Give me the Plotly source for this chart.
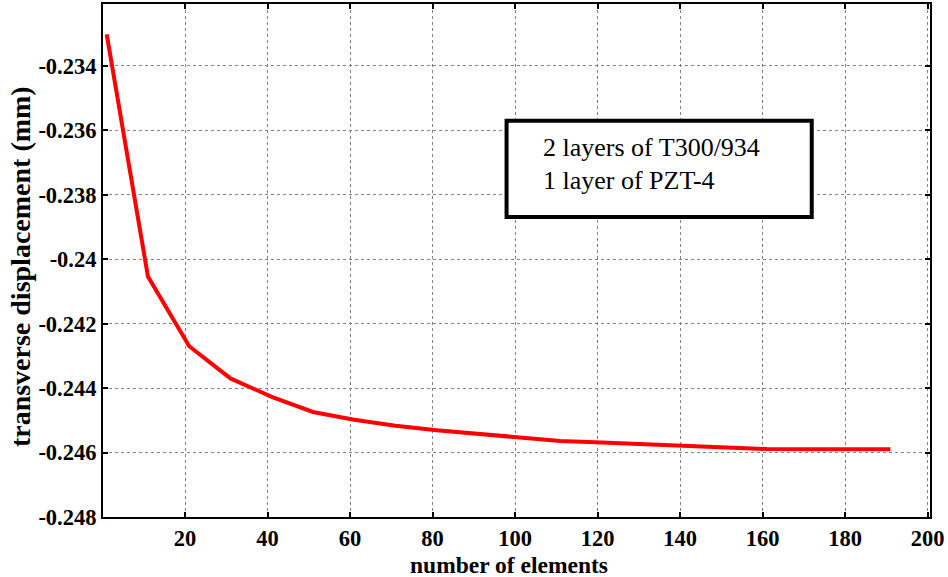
import plotly.graph_objects as go

# Data
n_elements = [1, 11, 21, 31, 41, 51, 61, 71, 81, 91, 101, 111, 121, 131, 141, 151, 161, 171, 181, 191]
displacement = [-0.23302, -0.24054, -0.24270, -0.24370, -0.24427, -0.24474, -0.24498, -0.24517,
                -0.24531, -0.24541, -0.24552, -0.24564, -0.24569, -0.24574, -0.24580, -0.24584,
                -0.24589, -0.24590, -0.24590, -0.24590]
x_ticks = [20, 40, 60, 80, 100, 120, 140, 160, 180, 200]
y_ticks = [-0.248, -0.246, -0.244, -0.242, -0.24, -0.238, -0.236, -0.234]
y_tick_text = ["-0.248", "-0.246", "-0.244", "-0.242", "-0.24", "-0.238", "-0.236", "-0.234"]
note_lines = ["2 layers of T300/934", "1 layer of PZT-4"]
x_title = "number of elements"
y_title = "transverse displacement (mm)"

FONT = "Liberation Serif"

fig = go.Figure()
fig.add_trace(go.Scatter(x=n_elements, y=displacement, mode="lines",
                         line=dict(color="#ff0000", width=4), showlegend=False))

axis_common = dict(showline=True, linecolor="black", linewidth=2, mirror="ticks",
                   ticks="inside", ticklen=5, tickcolor="black", tickwidth=1.5,
                   showgrid=True, gridcolor="#808080", gridwidth=1, griddash="dot",
                   zeroline=False, automargin=False,
                   tickfont=dict(family=FONT, size=22.5, color="black", weight="bold"))

fig.update_xaxes(range=[0.1, 200.6], tickvals=x_ticks, ticktext=[str(v) for v in x_ticks],
                 ticklabelstandoff=0, **axis_common)
fig.update_yaxes(range=[-0.248, -0.23208], tickvals=y_ticks, ticktext=y_tick_text,
                 **axis_common)

# axis titles
fig.add_annotation(xref="paper", yref="paper", x=0.491, y=-0.0935, xanchor="center", yanchor="middle",
                   text="<b>" + x_title + "</b>", showarrow=False, borderpad=0,
                   font=dict(family=FONT, size=23.5, color="black"))
fig.add_annotation(xref="paper", yref="paper", x=-0.1004, y=0.489, xanchor="center", yanchor="middle",
                   text="<b>" + y_title + "</b>", showarrow=False, textangle=-90,
                   font=dict(family=FONT, size=28, color="black"))

fig.add_shape(type="rect", xref="paper", yref="paper", x0=0.488, x1=0.857, y0=0.585, y1=0.7725,
              line=dict(color="black", width=4), fillcolor="white", layer="above")
fig.add_annotation(xref="paper", yref="paper", x=0.530, y=0.720, xanchor="left", yanchor="middle",
                   text=note_lines[0], showarrow=False,
                   font=dict(family=FONT, size=26, color="black"))
fig.add_annotation(xref="paper", yref="paper", x=0.530, y=0.656, xanchor="left", yanchor="middle",
                   text=note_lines[1], showarrow=False,
                   font=dict(family=FONT, size=26, color="black"))

fig.update_layout(width=948, height=577, margin=dict(l=103, r=18, t=4, b=60),
                  plot_bgcolor="white", paper_bgcolor="white",
                  font=dict(family=FONT))

fig.write_html("out.html")
